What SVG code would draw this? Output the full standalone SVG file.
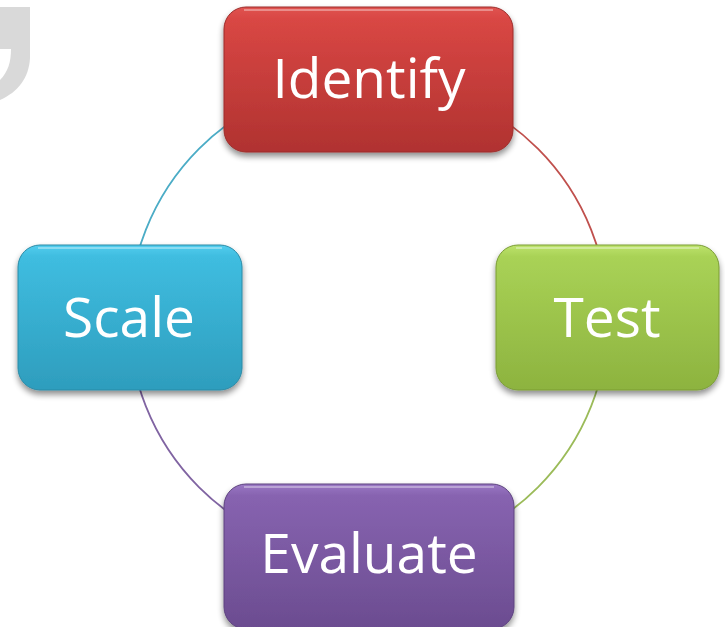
<svg xmlns="http://www.w3.org/2000/svg" width="725" height="627" viewBox="0 0 725 627">
  <defs>
    <style>
      .arc { fill: none; stroke-width: 1.8; }
      .box { stroke-width: 1; }
      .label { font-family: "Open Sans", "Noto Sans", "Liberation Sans", sans-serif; font-size: 55px; fill: #ffffff; text-anchor: middle; }
      .gloss { fill: none; stroke: #ffffff; stroke-opacity: 0.35; stroke-width: 2; }
    </style>
    <filter id="shadow" x="-10%" y="-10%" width="120%" height="130%">
      <feGaussianBlur in="SourceAlpha" stdDeviation="3"/>
      <feOffset dx="0" dy="4" result="b"/>
      <feComponentTransfer><feFuncA type="linear" slope="0.45"/></feComponentTransfer>
      <feMerge><feMergeNode/><feMergeNode in="SourceGraphic"/></feMerge>
    </filter>
    <linearGradient id="gRed" x1="0" y1="0" x2="0" y2="1">
      <stop offset="0" stop-color="#e05451"/>
      <stop offset="0.08" stop-color="#d94744"/>
      <stop offset="1" stop-color="#b03230"/>
    </linearGradient>
    <linearGradient id="gGreen" x1="0" y1="0" x2="0" y2="1">
      <stop offset="0" stop-color="#bde36c"/>
      <stop offset="0.08" stop-color="#a9d256"/>
      <stop offset="1" stop-color="#8db33f"/>
    </linearGradient>
    <linearGradient id="gBlue" x1="0" y1="0" x2="0" y2="1">
      <stop offset="0" stop-color="#52cdee"/>
      <stop offset="0.08" stop-color="#3fbde0"/>
      <stop offset="1" stop-color="#2e9dbd"/>
    </linearGradient>
    <linearGradient id="gPurple" x1="0" y1="0" x2="0" y2="1">
      <stop offset="0" stop-color="#9a78c4"/>
      <stop offset="0.08" stop-color="#8763b0"/>
      <stop offset="1" stop-color="#6b4c90"/>
    </linearGradient>
  </defs>

  <rect width="725" height="627" fill="#ffffff"/>

  <!-- decorative grey quote tail in the corner -->
  <path d="M0,7 H30 V58 C29,78 18,92 0,100 V80 C8,72 11,62 11,49 H0 Z" fill="#d9d9d9"/>

  <!-- cycle ring -->
  <g id="connectors">
    <path class="arc" stroke="#c0504d" d="M368.5,78.5 A239.5,239.5 0 0 1 608,318"/>
    <path class="arc" stroke="#9bbb59" d="M608,318 A239.5,239.5 0 0 1 368.5,557.5"/>
    <path class="arc" stroke="#8064a2" d="M368.5,557.5 A239.5,239.5 0 0 1 129,318"/>
    <path class="arc" stroke="#4bacc6" d="M129,318 A239.5,239.5 0 0 1 368.5,78.5"/>
  </g>

  <g id="identify" filter="url(#shadow)">
    <rect class="box" x="224" y="7" width="289" height="145" rx="22" fill="url(#gRed)" stroke="#9c2c2a"/>
    <path class="gloss" d="M244,10 H493"/>
    <text class="label" x="369" y="98">Identify</text>
  </g>

  <g id="test" filter="url(#shadow)">
    <rect class="box" x="496" y="245" width="223" height="145" rx="22" fill="url(#gGreen)" stroke="#7a9c35"/>
    <path class="gloss" d="M516,248 H699"/>
    <text class="label" x="607" y="337">Test</text>
  </g>

  <g id="scale" filter="url(#shadow)">
    <rect class="box" x="18" y="245" width="224" height="145" rx="22" fill="url(#gBlue)" stroke="#2a8aa6"/>
    <path class="gloss" d="M38,248 H222"/>
    <text class="label" x="129" y="337">Scale</text>
  </g>

  <g id="evaluate" filter="url(#shadow)">
    <rect class="box" x="224" y="484" width="290" height="145" rx="22" fill="url(#gPurple)" stroke="#5c427e"/>
    <path class="gloss" d="M244,487 H494"/>
    <text class="label" x="369" y="573">Evaluate</text>
  </g>
</svg>
